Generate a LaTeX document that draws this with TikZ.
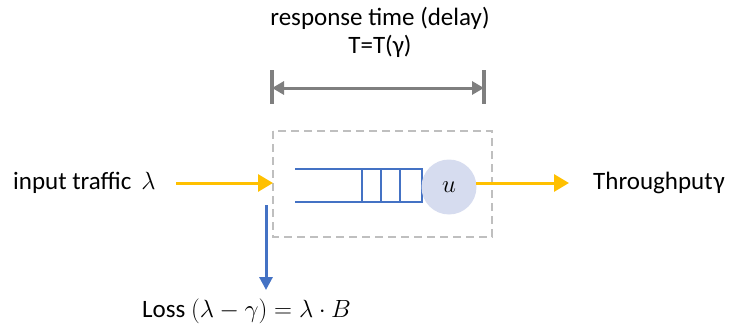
\documentclass[tikz,border=0pt]{standalone}
\usepackage{fontspec}
\setmainfont{Carlito}
\usetikzlibrary{arrows.meta}
\definecolor{amber}{HTML}{FFC000}
\definecolor{qblue}{HTML}{4472C4}
\definecolor{dimgray}{HTML}{7F7F7F}
\definecolor{boxgray}{HTML}{BFBFBF}
\definecolor{srvfill}{HTML}{D6DCEF}
\tikzset{
  lbl/.style={font=\fontsize{25}{30}\selectfont, inner sep=0pt},
  flow/.style={draw=amber, line width=3pt, -{Triangle[length=15pt,width=17pt]}},
  lossarrow/.style={draw=qblue, line width=3pt, -{Triangle[length=13pt,width=13pt]}},
  dimline/.style={draw=dimgray, line width=3pt, {Triangle[length=12pt,width=13pt]}-{Triangle[length=12pt,width=13pt]}},
  dimbar/.style={draw=dimgray, line width=3.5pt},
  queueline/.style={draw=qblue, line width=1.2pt},
  sysbox/.style={draw=boxgray, line width=2pt, dash pattern=on 8pt off 5pt},
  server/.style={circle, fill=srvfill, minimum size=55pt, inner sep=0pt}
}
\begin{document}
\begin{tikzpicture}[x=1pt,y=-1pt]
\useasboundingbox (0,0) rectangle (740,332);
% titles
\node[lbl] (title1) at (380,18) {response time (delay)};
\node[lbl] (title2) at (380,46) {T=T(γ)};
% dimension line
\coordinate (dl) at (272,88);
\coordinate (dr) at (484,88);
\coordinate (dlt) at (272,70);
\coordinate (dlb) at (272,104);
\coordinate (drt) at (484,70);
\coordinate (drb) at (484,104);
\draw[dimbar] (dlt) -- (dlb);
\draw[dimbar] (drt) -- (drb);
\draw[dimline] (dl) -- (dr);
% system box
\coordinate (boxnw) at (273,131);
\coordinate (boxse) at (492,237);
\draw[sysbox] (boxnw) rectangle (boxse);
% queue
\coordinate (q1) at (295,169);
\coordinate (q2) at (422,169);
\coordinate (q3) at (422,202);
\coordinate (q4) at (295,202);
\draw[queueline] (q1) -- (q2) -- (q3) -- (q4);
\coordinate (v1t) at (362,169); \coordinate (v1b) at (362,202);
\coordinate (v2t) at (381,169); \coordinate (v2b) at (381,202);
\coordinate (v3t) at (400,169); \coordinate (v3b) at (400,202);
\draw[queueline] (v1t) -- (v1b);
\draw[queueline] (v2t) -- (v2b);
\draw[queueline] (v3t) -- (v3b);
% server
\node[server] (srv) at (449,187) {\fontsize{31}{36}\selectfont $u$};
% input
\node[lbl, anchor=west] (input) at (13,183) {input traffic\, $\lambda$};
\coordinate (inS) at (176,183);
\coordinate (inE) at (273,183);
\draw[flow] (inS) -- (inE);
% output
\coordinate (outS) at (476,183);
\coordinate (outE) at (569,183);
\draw[flow] (outS) -- (outE);
\node[lbl, anchor=west] (thr) at (593,183) {Throughput\kern1ptγ};
% loss
\coordinate (lossS) at (266,205);
\coordinate (lossE) at (266,290);
\draw[lossarrow] (lossS) -- (lossE);
\node[lbl, anchor=west] (loss) at (142,311) {Loss $(\lambda-\gamma)=\lambda\cdot B$};
\end{tikzpicture}
\end{document}
